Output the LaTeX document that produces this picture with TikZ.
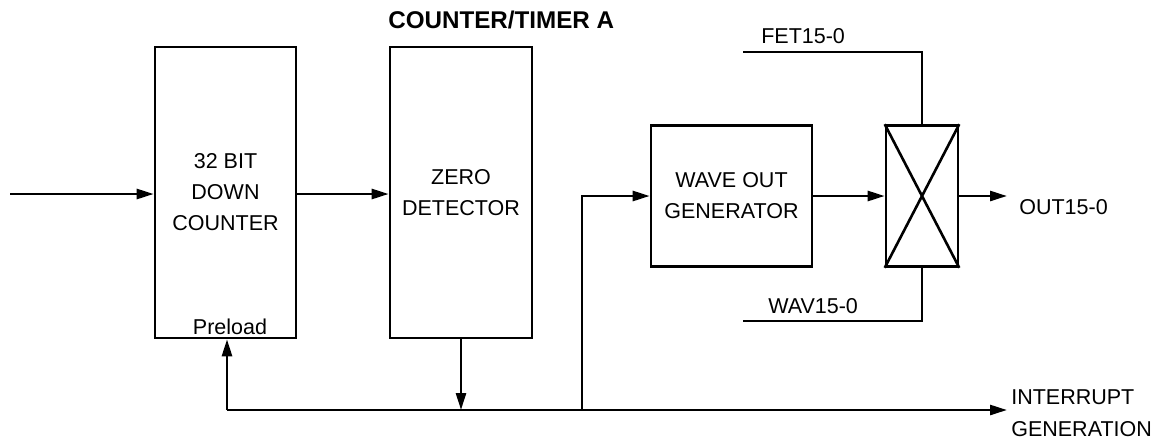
\documentclass[tikz,border=0pt]{standalone}
\usepackage{fontspec}
\setmainfont{Liberation Sans}
\usetikzlibrary{arrows.meta}
\begin{document}
\begin{tikzpicture}[x=1pt,y=-1pt,
  line width=2.6pt,
  every node/.style={font=\fontsize{21.5}{31}\selectfont},
  blk/.style={draw,rectangle,inner sep=0pt,align=center},
  lbl/.style={anchor=base west,inner sep=0pt},
  arr/.style={-{Triangle[length=17pt,width=10pt]}},
]
\useasboundingbox (0,0) rectangle (1165,440);
% title
\node[anchor=base west,inner sep=0pt,font=\fontsize{24.2}{28}\selectfont\bfseries] (title) at (387,28) {COUNTER/TIMER A};
% boxes
\node[blk,minimum width=141pt,minimum height=291pt] (cnt) at (225.5,192.5) {32 BIT\\DOWN\\COUNTER};
\node[blk,minimum width=142pt,minimum height=291pt] (zero) at (461,192.5) {ZERO\\DETECTOR};
\node[blk,minimum width=161pt,minimum height=141pt] (wave) at (731.5,196) {WAVE OUT\\GENERATOR};
\node[draw,rectangle,inner sep=0pt,minimum width=72pt,minimum height=141pt] (mux) at (922,196) {};
\draw (mux.north west) -- (mux.south east);
\draw (mux.south west) -- (mux.north east);
\node[anchor=base,inner sep=0pt] (pre) at (230,334) {Preload};
% labels
\node[lbl] (fet) at (760,43) {FET15-0};
\node[lbl] (wav) at (767,313) {WAV15-0};
\node[lbl] (out) at (1018,214) {OUT15-0};
\node[lbl] (int1) at (1010,404) {INTERRUPT};
\node[lbl] (int2) at (1010,436) {GENERATION};
% coordinates
\coordinate (in) at (10,194);
\coordinate (pl) at (227,410);
\coordinate (br) at (582,410);
\coordinate (busE) at (1007,410);
\coordinate (fetL) at (743,52);
\coordinate (wavL) at (743,321);
\coordinate (outE) at (1007,196);
% connectors
\draw[arr] (in) -- (in -| cnt.west);
\draw[arr] (cnt.east |- in) -- (zero.west |- in);
\draw[arr] (zero.south) -- (zero.south |- pl);
\draw[arr] (pl) -- (pl |- cnt.south);
\draw[arr] (pl) -- (busE);
\draw[arr] (br) |- (wave.west);
\draw[arr] (wave.east) -- (mux.west);
\draw[arr] (mux.east) -- (outE);
\draw (fetL) -| (mux.north);
\draw (mux.south) |- (wavL);
\end{tikzpicture}
\end{document}
